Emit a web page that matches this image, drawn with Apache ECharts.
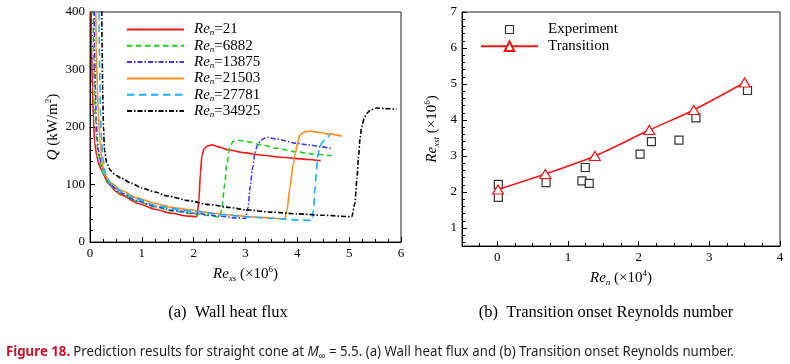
<!DOCTYPE html>
<html><head><meta charset="utf-8">
<script src="https://cdn.jsdelivr.net/npm/echarts@6/dist/echarts.min.js"></script>
<style>html,body{margin:0;padding:0;background:#fff}#c{width:790px;height:364px}</style>
</head><body><div id="c"></div>
<script>
// ===== Panel (a): wall heat flux Q (kW/m^2) vs Re_xs (x10^6) =====
const legendA = ['21', '6882', '13875', '21503', '27781', '34925'];

const re21_x = [0.02, 0.03, 0.045, 0.065, 0.09, 0.13, 0.17, 0.22, 0.35, 0.5, 0.6, 0.93, 1.25, 1.57, 1.89, 2.06, 2.1, 2.13, 2.16, 2.2, 2.26, 2.35, 2.5, 2.67, 3.0, 3.31, 3.7, 3.96, 4.2, 4.45];
const re21_q = [420, 340, 270, 215, 172, 150, 135, 125, 102, 88, 82, 67, 57, 50, 45, 44, 70, 120, 150, 162, 167, 169, 165, 160, 155, 151, 147.5, 145.5, 143.5, 141.5];

const re6882_x = [0.06, 0.07, 0.085, 0.1, 0.12, 0.15, 0.2, 0.28, 0.4, 0.6, 0.9, 1.25, 1.6, 2.0, 2.3, 2.5, 2.54, 2.6, 2.64, 2.7, 2.76, 2.85, 3.0, 3.31, 3.6, 3.96, 4.3, 4.66];
const re6882_q = [420, 330, 260, 220, 185, 160, 135, 112, 97, 84, 71, 61, 54, 49, 46, 43, 56, 100, 137, 165, 175, 177, 175, 169, 163, 157, 153, 150];

const re13875_x = [0.08, 0.09, 0.105, 0.12, 0.14, 0.17, 0.22, 0.3, 0.4, 0.6, 0.9, 1.25, 1.6, 2.0, 2.5, 2.8, 3.0, 3.05, 3.09, 3.14, 3.18, 3.23, 3.28, 3.35, 3.42, 3.6, 3.96, 4.2, 4.47, 4.68];
const re13875_q = [420, 330, 260, 215, 180, 155, 135, 113, 99, 85, 72, 62, 55, 50, 45, 42, 41, 60, 96, 130, 154, 168, 175, 180, 182, 179, 172, 169, 165.5, 162];

const re21503_x = [0.11, 0.12, 0.14, 0.16, 0.19, 0.23, 0.28, 0.4, 0.6, 0.9, 1.25, 1.6, 1.9, 2.28, 2.7, 3.1, 3.5, 3.76, 3.8, 3.86, 3.92, 3.96, 4.01, 4.05, 4.12, 4.24, 4.4, 4.6, 4.86];
const re21503_q = [420, 340, 270, 225, 180, 140, 117, 103, 90, 77, 67, 60, 56, 51, 47, 44, 41.5, 40, 55, 96, 135, 154, 175, 186, 191, 193, 191, 188, 184];

const re27781_x = [0.17, 0.18, 0.19, 0.2, 0.22, 0.25, 0.3, 0.4, 0.6, 0.9, 1.25, 1.6, 2.0, 2.5, 3.0, 3.5, 4.0, 4.28, 4.31, 4.34, 4.37, 4.39, 4.43, 4.47, 4.55, 4.63];
const re27781_q = [420, 340, 280, 230, 185, 145, 118, 101, 88, 75, 64, 58, 53, 48, 44, 41, 38.5, 37.5, 55, 90, 125, 148, 163, 172, 180, 186];

const re34925_x = [0.225, 0.235, 0.245, 0.26, 0.28, 0.32, 0.4, 0.5, 0.6, 0.8, 1.0, 1.25, 1.5, 1.9, 2.3, 2.7, 3.0, 3.5, 4.0, 4.5, 5.05, 5.11, 5.15, 5.18, 5.21, 5.24, 5.29, 5.34, 5.42, 5.53, 5.7, 5.92];
const re34925_q = [420, 330, 260, 200, 160, 138, 124, 116, 111, 102, 94, 87, 80, 72, 65, 60, 56, 52, 49, 46.5, 44, 67, 110, 148, 180, 200, 215, 224, 230, 233, 232, 231];

const ticksAx = [0, 1, 2, 3, 4, 5, 6];
const ticksAy = [0, 100, 200, 300, 400];

// ===== Panel (b): transition onset Reynolds number =====
const expRen   = [0.014, 0.014, 0.69, 1.197, 1.244, 1.30, 2.02, 2.18, 2.57, 2.81, 3.54];
const expRexst = [2.21, 1.85, 2.26, 2.31, 2.68, 2.24, 3.05, 3.40, 3.44, 4.06, 4.82];
const traRen   = [0.01, 0.68, 1.38, 2.15, 2.78, 3.50];
const traRexst = [2.07, 2.50, 3.00, 3.72, 4.28, 5.04];
const ticksBx = [0, 1, 2, 3, 4];
const ticksBy = [1, 2, 3, 4, 5, 6, 7];

// ---------------------------------------------------------------
const SERIF = "'Liberation Serif', 'Times New Roman', serif";
const colorsA = ['#f01818', '#22cc22', '#3a3af0', '#ff8c1a', '#1ab0ff', '#000000'];
const dashA = ['solid', [5.5, 3.5], [5, 2, 1.5, 2], 'solid', [7.5, 4.5], [5, 2, 1.5, 2]];
const xsA = [re21_x, re6882_x, re13875_x, re21503_x, re27781_x, re34925_x];
const qsA = [re21_q, re6882_q, re13875_q, re21503_q, re27781_q, re34925_q];
const zip = (a, b) => a.map((v, i) => [v, b[i]]);

// minor tick positions for panel (b) (ticks only)
const minorBx = []; for (let k = -2; k <= 16; k++) minorBx.push(k * 0.25);
const minorBy = []; for (let k = 3; k <= 35; k++) minorBy.push(+(k * 0.2).toFixed(2));

const rich = {
  i: { fontFamily: SERIF, fontStyle: 'italic', fontSize: 15, lineHeight: 18, color: '#000' },
  n: { fontFamily: SERIF, fontSize: 15, lineHeight: 18, color: '#000' },
  sub: { fontFamily: SERIF, fontStyle: 'italic', fontSize: 9, lineHeight: 9, verticalAlign: 'bottom', color: '#000' },
  sup: { fontFamily: SERIF, fontSize: 9, lineHeight: 9, verticalAlign: 'top', color: '#000' }
};
const legRich = {
  i: { fontFamily: SERIF, fontStyle: 'italic', fontSize: 15, lineHeight: 16, color: '#000' },
  n: { fontFamily: SERIF, fontSize: 15, lineHeight: 16, color: '#000' },
  sub: { fontFamily: SERIF, fontStyle: 'italic', fontSize: 9, lineHeight: 8, verticalAlign: 'bottom', color: '#000' }
};
const axLabel = { fontFamily: SERIF, fontSize: 13, color: '#000' };
const axLine = { show: true, onZero: false, lineStyle: { color: '#000', width: 1 } };

const seriesA = legendA.map((nm, k) => ({
  name: nm, type: 'line', xAxisIndex: 0, yAxisIndex: 0,
  data: zip(xsA[k], qsA[k]), symbol: 'none', smooth: 0.25, smoothMonotone: 'x',
  lineStyle: { color: colorsA[k], width: 1.6, type: dashA[k] },
  itemStyle: { color: colorsA[k] }, clip: true, z: 3
}));

const chart = echarts.init(document.getElementById('c'), null, { renderer: 'canvas' });

// caption width fitting
const capText = 'Prediction results for straight cone at ';
const capText2 = ' = 5.5. (a) Wall heat flux and (b) Transition onset Reynolds number.';
const CAPF = "'Liberation Sans Narrow', 'Noto Sans', sans-serif";
const cv = document.createElement('canvas').getContext('2d');
cv.font = 'bold 14px ' + CAPF; let w = cv.measureText('Figure 18. ').width;
cv.font = '14px ' + CAPF; w += cv.measureText(capText + capText2).width;
cv.font = 'italic 14px ' + CAPF; w += cv.measureText('M').width;
cv.font = '10px ' + CAPF; w += cv.measureText('\u221E').width;
const capScale = 728 / w;

chart.setOption({
  animation: false,
  backgroundColor: '#fff',
  grid: [
    { left: 90, top: 12, width: 311, height: 230, show: true, borderColor: '#222', borderWidth: 1, backgroundColor: 'transparent' },
    { left: 462, top: 12, width: 318, height: 234, show: true, borderColor: '#222', borderWidth: 1, backgroundColor: 'transparent' }
  ],
  xAxis: [
    { type: 'value', gridIndex: 0, min: 0, max: 6, interval: 1,
      axisLine: axLine, splitLine: { show: false },
      axisTick: { inside: true, length: 5, lineStyle: { color: '#000' } },
      minorTick: { show: true, splitNumber: 4, length: 3, lineStyle: { color: '#000' } },
      axisLabel: Object.assign({ margin: 5 }, axLabel),
      name: '{i|Re}{sub|xs}{n| (\u00D710}{sup|6}{n|)}', nameLocation: 'middle', nameGap: 22,
      nameTextStyle: { rich: rich } },
    { type: 'value', gridIndex: 1, min: -0.5, max: 4, position: 'bottom',
      axisLine: axLine, splitLine: { show: false },
      axisTick: { inside: true, length: 5, customValues: ticksBx, lineStyle: { color: '#000' } },
      axisLabel: Object.assign({ margin: 5, customValues: ticksBx }, axLabel),
      name: '{i|Re}{sub|n}{n| (\u00D710}{sup|4}{n|)}', nameLocation: 'middle', nameGap: 18,
      nameTextStyle: { rich: rich } },
    { type: 'value', gridIndex: 1, min: -0.5, max: 4, position: 'bottom', offset: 0,
      axisLine: { show: false, onZero: false }, splitLine: { show: false }, axisLabel: { show: false },
      axisTick: { inside: true, length: 3, customValues: minorBx, lineStyle: { color: '#000' } } }
  ],
  yAxis: [
    { type: 'value', gridIndex: 0, min: 0, max: 400, interval: 100,
      axisLine: axLine, splitLine: { show: false },
      axisTick: { inside: true, length: 5, lineStyle: { color: '#000' } },
      minorTick: { show: true, splitNumber: 5, length: 3, lineStyle: { color: '#000' } },
      axisLabel: Object.assign({ margin: 5 }, axLabel),
      name: '{i|Q}{n| (kW/m}{sup|2}{n|)}', nameLocation: 'middle', nameGap: 28,
      nameTextStyle: { rich: rich } },
    { type: 'value', gridIndex: 1, min: 0.5, max: 7, position: 'left',
      axisLine: axLine, splitLine: { show: false },
      axisTick: { inside: true, length: 5, customValues: ticksBy, lineStyle: { color: '#000' } },
      axisLabel: Object.assign({ margin: 5, customValues: ticksBy }, axLabel),
      name: '{i|Re}{sub|xst}{n| (\u00D710}{sup|6}{n|)}', nameLocation: 'middle', nameGap: 21,
      nameTextStyle: { rich: rich } },
    { type: 'value', gridIndex: 1, min: 0.5, max: 7, position: 'left', offset: 0,
      axisLine: { show: false, onZero: false }, splitLine: { show: false }, axisLabel: { show: false },
      axisTick: { inside: true, length: 3, customValues: minorBy, lineStyle: { color: '#000' } } }
  ],
  legend: [
    { data: legendA, orient: 'vertical', left: 126, top: 22, padding: 0, itemWidth: 57, itemHeight: 14, itemGap: 0.8,
      itemStyle: { color: 'transparent', borderColor: 'transparent', borderWidth: 0 },
      formatter: nm => '{i|Re}{sub|n}{n|=' + nm + '}',
      textStyle: { rich: legRich, padding: [0, 0, 0, 5] }, selectedMode: false },
    { data: [
        { name: 'Experiment', icon: 'path://M0,0 M57,12 M24.5,2 h8 v8 h-8 z',
          itemStyle: { color: '#fff', borderColor: '#000', borderWidth: 1.2 } },
        { name: 'Transition' } ],
      orient: 'vertical', left: 480, top: 22, padding: 0, itemWidth: 57, itemHeight: 12, itemGap: 1.8,
      textStyle: { fontFamily: SERIF, fontSize: 15, lineHeight: 14, color: '#000', padding: [0, 0, 0, 5] }, selectedMode: false }
  ],
  series: seriesA.concat([
    { name: 'Experiment', type: 'scatter', xAxisIndex: 1, yAxisIndex: 1,
      data: zip(expRen, expRexst), symbol: 'rect', symbolSize: 8,
      itemStyle: { color: '#fff', borderColor: '#000', borderWidth: 1.2 }, z: 4 },
    { name: 'Transition', type: 'line', xAxisIndex: 1, yAxisIndex: 1,
      data: zip(traRen, traRexst), symbol: 'triangle', symbolSize: [11, 9], smooth: 0.3,
      showAllSymbol: true,
      lineStyle: { color: '#f01818', width: 1.6 },
      itemStyle: { color: '#fff', borderColor: '#f01818', borderWidth: 1.2 }, z: 5 }
  ]),
  graphic: [
    { type: 'text', x: 228, y: 313, z: 10,
      style: { text: '(a)  Wall heat flux', fontFamily: SERIF, fontSize: 16.5, fill: '#000', align: 'center', verticalAlign: 'middle' } },
    { type: 'text', x: 606, y: 313, z: 10,
      style: { text: '(b)  Transition onset Reynolds number', fontFamily: SERIF, fontSize: 16.5, fill: '#000', align: 'center', verticalAlign: 'middle' } },
    { type: 'text', x: 6, y: 352, scaleX: capScale, z: 10,
      style: {
        text: '{f|Figure 18.} {r|' + capText + '}{m|M}{s|\u221E}{r|' + capText2 + '}',
        verticalAlign: 'middle', align: 'left',
        rich: {
          f: { fontFamily: CAPF, fontWeight: 'bold', fontSize: 14, fill: '#c8102e', lineHeight: 18 },
          r: { fontFamily: CAPF, fontSize: 14, fill: '#231f20', lineHeight: 18 },
          m: { fontFamily: CAPF, fontStyle: 'italic', fontSize: 14, fill: '#231f20', lineHeight: 18 },
          s: { fontFamily: CAPF, fontSize: 10, fill: '#231f20', lineHeight: 10, verticalAlign: 'bottom' }
        }
      } }
  ]
});
</script>
</body></html>
